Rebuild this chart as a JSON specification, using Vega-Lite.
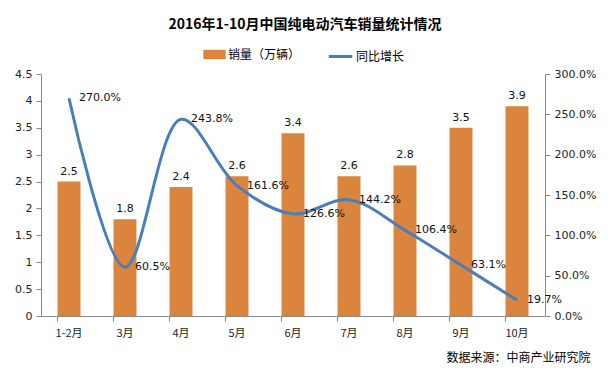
{
  "$schema": "https://vega.github.io/schema/vega-lite/v6.json",
  "autosize": "none",
  "width": 504,
  "height": 242,
  "padding": {"left": 41, "top": 74, "right": 66, "bottom": 57},
  "background": "white",
  "title": {
    "text": "2016年1-10月中国纯电动汽车销量统计情况",
    "font": "Noto Sans CJK SC",
    "fontSize": 14,
    "fontWeight": "bold",
    "color": "#000000",
    "anchor": "middle",
    "frame": "group",
    "dx": 12,
    "offset": 11
  },
  "data": {
    "values": [
      {"month": "1-2月", "sales": 2.5, "growth": 2.700},
      {"month": "3月", "sales": 1.8, "growth": 0.605},
      {"month": "4月", "sales": 2.4, "growth": 2.438},
      {"month": "5月", "sales": 2.6, "growth": 1.616},
      {"month": "6月", "sales": 3.4, "growth": 1.266},
      {"month": "7月", "sales": 2.6, "growth": 1.442},
      {"month": "8月", "sales": 2.8, "growth": 1.064},
      {"month": "9月", "sales": 3.5, "growth": 0.631},
      {"month": "10月", "sales": 3.9, "growth": 0.197}
    ]
  },
  "encoding": {
    "x": {
      "field": "month",
      "type": "nominal",
      "sort": null,
      "scale": {"paddingInner": 0.59, "paddingOuter": 0.295},
      "axis": {
        "title": "数据来源：中商产业研究院",
        "titleAnchor": "end",
        "titleAlign": "right",
        "titleX": 549,
        "titleY": 36,
        "titleFont": "Noto Sans CJK SC",
        "titleFontSize": 12,
        "titleFontWeight": "normal",
        "titleColor": "#000000",
        "labelAngle": 0,
        "labelFont": "Noto Sans CJK SC",
        "labelFontSize": 11,
        "labelColor": "#222222",
        "labelPadding": 6,
        "domainColor": "#888888",
        "tickColor": "#888888",
        "tickSize": 5,
        "bandPosition": 0,
        "grid": false
      }
    }
  },
  "layer": [
    {
      "mark": {"type": "bar", "color": "#DB843D"},
      "encoding": {
        "y": {
          "field": "sales",
          "type": "quantitative",
          "scale": {"domain": [0, 4.5], "nice": false},
          "axis": {
            "title": null,
            "values": [0, 0.5, 1, 1.5, 2, 2.5, 3, 3.5, 4, 4.5],
            "format": "~g",
            "labelFont": "DejaVu Sans",
            "labelFontSize": 11,
            "labelColor": "#222222",
            "domainColor": "#888888",
            "tickColor": "#888888",
            "tickSize": 5,
            "labelPadding": 4,
            "grid": false
          }
        },
        "fill": {
          "datum": "销量（万辆）",
          "scale": {"range": ["#DB843D"]},
          "legend": {
            "title": null,
            "orient": "none",
            "legendX": 162,
            "legendY": -31,
            "symbolType": "M-1,-0.42H1V0.42H-1Z",
            "symbolSize": 500,
            "symbolStrokeWidth": 0,
            "labelOffset": 2,
            "labelFont": "Noto Sans CJK SC",
            "labelFontSize": 12,
            "labelColor": "#000000"
          }
        }
      }
    },
    {
      "mark": {"type": "text", "dy": -10, "font": "DejaVu Sans", "fontSize": 11, "color": "#111111"},
      "encoding": {
        "y": {"field": "sales", "type": "quantitative", "scale": {"domain": [0, 4.5], "nice": false}, "axis": null},
        "text": {"field": "sales", "type": "quantitative", "format": ".1f"}
      }
    },
    {
      "mark": {"type": "line", "interpolate": "catmull-rom", "strokeWidth": 3, "color": "#4A7EBB"},
      "encoding": {
        "y": {
          "field": "growth",
          "type": "quantitative",
          "scale": {"domain": [0, 3], "nice": false},
          "axis": {
            "title": null,
            "orient": "right",
            "values": [0, 0.5, 1, 1.5, 2, 2.5, 3],
            "format": ".1%",
            "labelFont": "DejaVu Sans",
            "labelFontSize": 11,
            "labelColor": "#222222",
            "domainColor": "#888888",
            "tickColor": "#888888",
            "tickSize": 5,
            "labelPadding": 4,
            "grid": false
          }
        },
        "stroke": {
          "datum": "同比增长",
          "scale": {"range": ["#4A7EBB"]},
          "legend": {
            "title": null,
            "orient": "none",
            "legendX": 286,
            "legendY": -31,
            "symbolType": "stroke",
            "symbolStrokeWidth": 3,
            "symbolSize": 550,
            "labelOffset": 2,
            "labelFont": "Noto Sans CJK SC",
            "labelFontSize": 12,
            "labelColor": "#000000"
          }
        }
      }
    },
    {
      "mark": {"type": "text", "align": "left", "dx": 10, "font": "DejaVu Sans", "fontSize": 11, "color": "#111111"},
      "encoding": {
        "y": {"field": "growth", "type": "quantitative", "scale": {"domain": [0, 3], "nice": false}, "axis": null},
        "text": {"field": "growth", "type": "quantitative", "format": ".1%"}
      }
    }
  ],
  "resolve": {"scale": {"y": "independent", "fill": "independent", "stroke": "independent"}},
  "config": {
    "view": {"stroke": null},
    "legend": {"padding": 0}
  }
}
